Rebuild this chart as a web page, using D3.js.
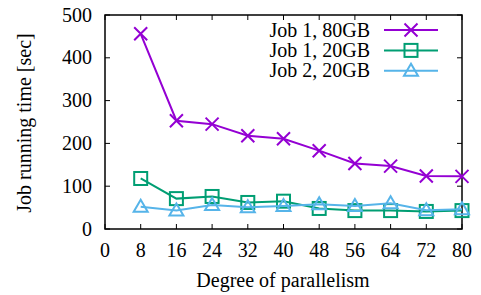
<!DOCTYPE html>
<html>
<head>
<meta charset="utf-8">
<style>
  body { margin: 0; background: #fff; }
  text { font-family: "Liberation Serif", "Times New Roman", Times, "DejaVu Serif", "Noto Serif", serif; }
</style>
<script src="https://d3js.org/d3.v7.min.js"></script>
</head>
<body>
<svg width="481" height="295"></svg>
<script>
// data
var parallelism = [8, 16, 24, 32, 40, 48, 56, 64, 72, 80];
var job1_80 = [456, 253, 245, 218, 211, 183, 153, 147, 124, 123];
var job1_20 = [118, 71, 76, 62, 65, 48, 43, 43, 41, 43];
var job2_20 = [52, 43, 56, 51, 54, 58, 54, 60, 44, 46];
var xTicks = [0, 8, 16, 24, 32, 40, 48, 56, 64, 72, 80];
var yTicks = [0, 100, 200, 300, 400, 500];

var series = [
  {name: "Job 1, 80GB", values: job1_80, color: "#9400d3", marker: "x"},
  {name: "Job 1, 20GB", values: job1_20, color: "#009e73", marker: "square"},
  {name: "Job 2, 20GB", values: job2_20, color: "#56b4e9", marker: "triangle"}
];

var svg = d3.select("svg"),
    margin = {top: 15, right: 19, bottom: 66, left: 105},
    width = +svg.attr("width") - margin.left - margin.right,
    height = +svg.attr("height") - margin.top - margin.bottom,
    fs = "20px",
    ff = "Liberation Serif";

var x = d3.scaleLinear().domain([0, 80]).range([0, width]),
    y = d3.scaleLinear().domain([0, 500]).range([height, 0]);

var g = svg.append("g")
    .attr("transform", "translate(" + margin.left + "," + margin.top + ")");

// tick marks, mirrored on all four sides, pointing inwards
var tl = 5;
g.selectAll(".xt").data(xTicks).enter().append("path")
    .attr("d", function(d) { return "M" + x(d) + "," + height + "v" + (-tl) + "M" + x(d) + ",0v" + tl; })
    .attr("stroke", "#000").attr("stroke-width", 1);
g.selectAll(".yt").data(yTicks).enter().append("path")
    .attr("d", function(d) { return "M0," + y(d) + "h" + tl + "M" + width + "," + y(d) + "h" + (-tl); })
    .attr("stroke", "#000").attr("stroke-width", 1);

g.append("rect")
    .attr("width", width).attr("height", height)
    .attr("fill", "none").attr("stroke", "#000").attr("stroke-width", 1.5);

g.selectAll(".xl").data(xTicks).enter().append("text")
    .attr("x", function(d) { return x(d); })
    .attr("y", height + 28)
    .attr("text-anchor", "middle")
    .attr("font-family", ff)
    .attr("font-size", fs)
    .text(function(d) { return d; });

g.selectAll(".yl").data(yTicks).enter().append("text")
    .attr("x", -13)
    .attr("y", function(d) { return y(d); })
    .attr("dy", "0.33em")
    .attr("text-anchor", "end")
    .attr("font-family", ff)
    .attr("font-size", fs)
    .text(function(d) { return d; });

svg.append("text")
    .attr("x", 283)
    .attr("y", 287)
    .attr("text-anchor", "middle")
    .attr("font-family", ff)
    .attr("font-size", fs)
    .text("Degree of parallelism");

svg.append("text")
    .attr("transform", "translate(31,123) rotate(-90)")
    .attr("text-anchor", "middle")
    .attr("font-family", ff)
    .attr("font-size", fs)
    .text("Job running time [sec]");

function drawMarker(sel, type, color) {
  if (type === "x") {
    sel.append("path").attr("d", "M-6.5,-6.5L6.5,6.5M-6.5,6.5L6.5,-6.5");
  } else if (type === "square") {
    sel.append("rect").attr("x", -6.5).attr("y", -6.5).attr("width", 13).attr("height", 13);
  } else {
    sel.append("path").attr("d", "M0,-7L7,5L-7,5Z");
  }
  sel.selectAll("*").attr("fill", "none").attr("stroke", color).attr("stroke-width", 2);
}

var line = d3.line()
    .x(function(d, i) { return x(parallelism[i]); })
    .y(function(d) { return y(d); });

series.forEach(function(s) {
  g.append("path")
      .datum(s.values)
      .attr("d", line)
      .attr("fill", "none")
      .attr("stroke", s.color)
      .attr("stroke-width", 2);
  s.values.forEach(function(v, i) {
    var m = g.append("g").attr("transform", "translate(" + x(parallelism[i]) + "," + y(v) + ")");
    drawMarker(m, s.marker, s.color);
  });
});

// legend
series.forEach(function(s, i) {
  var ly = 30 + i * 20.4;
  svg.append("text")
      .attr("x", 370).attr("y", ly).attr("dy", "0.33em")
      .attr("text-anchor", "end")
      .attr("font-family", ff)
      .attr("font-size", fs)
      .text(s.name);
  svg.append("line")
      .attr("x1", 384).attr("x2", 438).attr("y1", ly).attr("y2", ly)
      .attr("stroke", s.color).attr("stroke-width", 2);
  var m = svg.append("g").attr("transform", "translate(411," + ly + ")");
  drawMarker(m, s.marker, s.color);
});
</script>
</body>
</html>
